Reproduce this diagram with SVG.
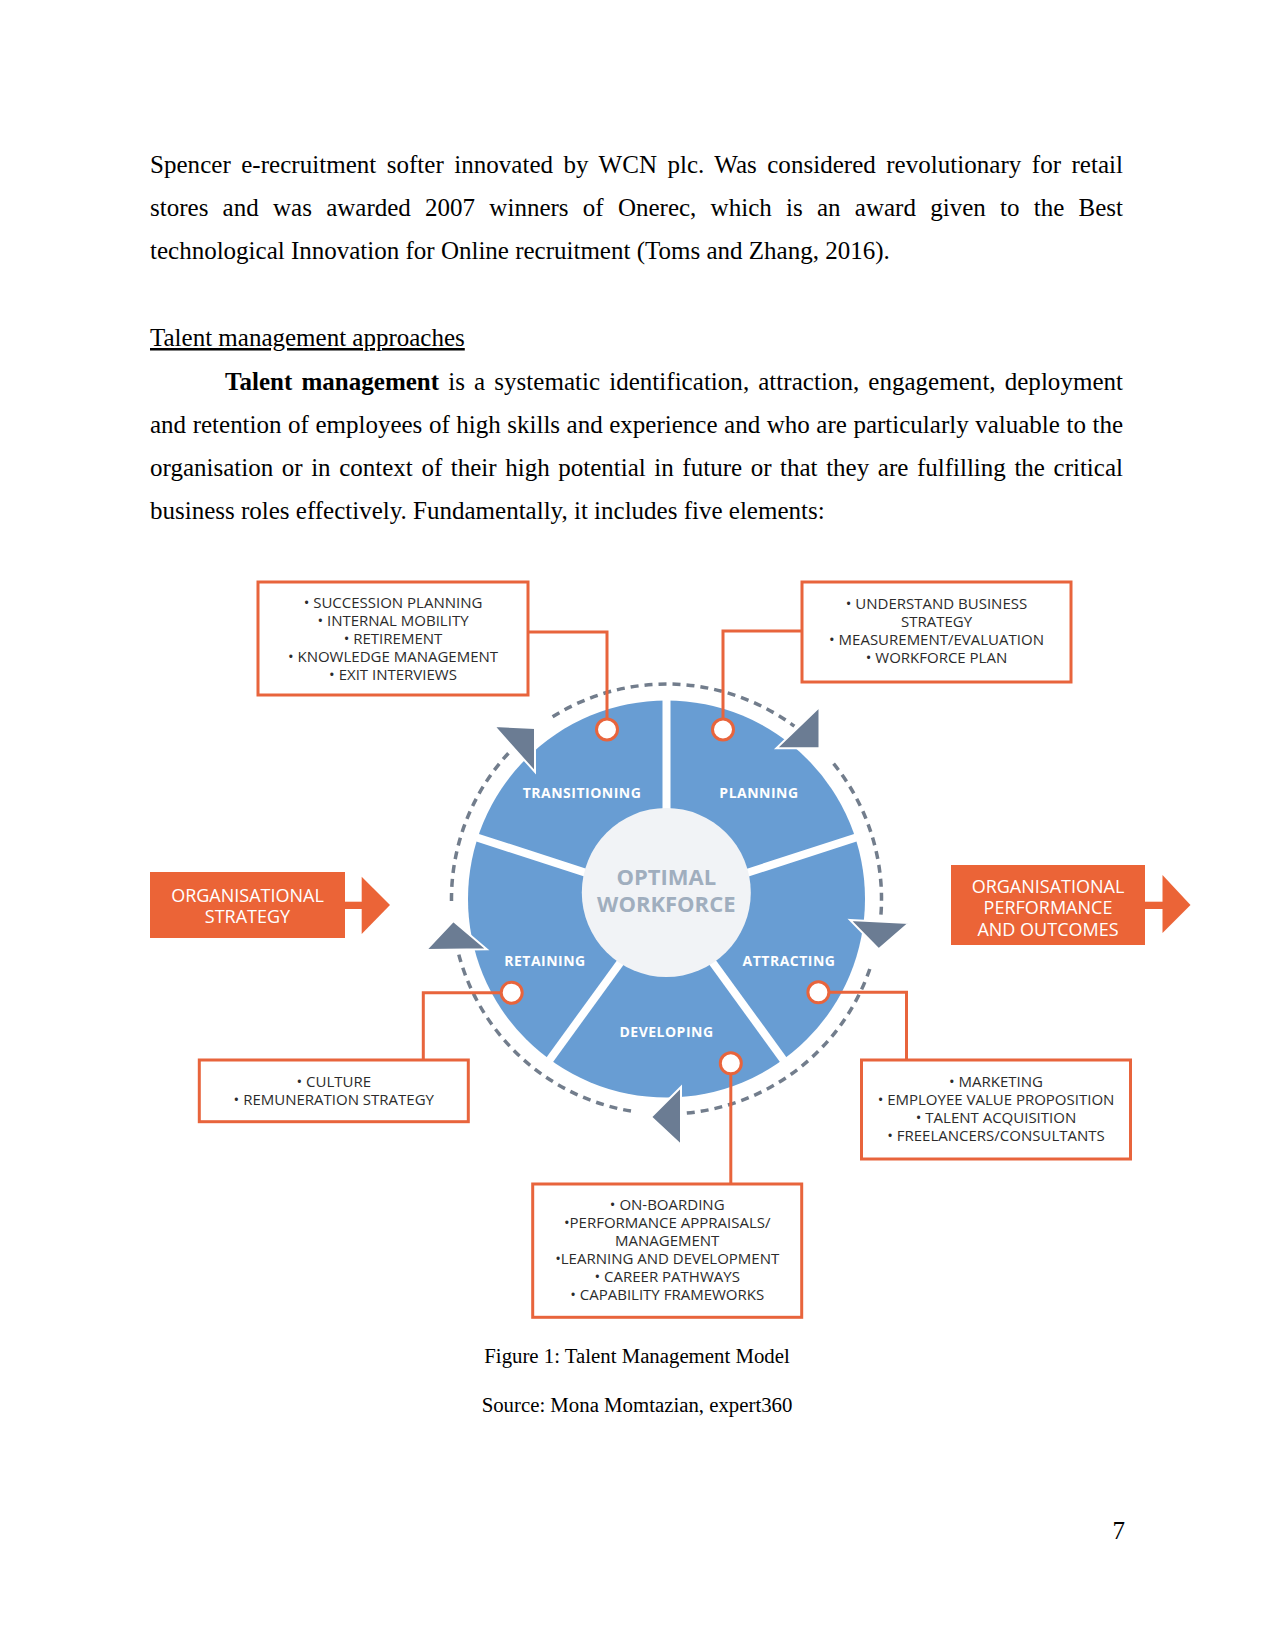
<svg xmlns="http://www.w3.org/2000/svg" width="1275" height="1651" viewBox="0 0 1275 1651">
<style>
.body{font-family:"Liberation Serif","Times New Roman",serif;font-size:25px;fill:#000}
.cap{font-family:"Liberation Serif","Times New Roman",serif;font-size:20.8px;fill:#000}
.box{fill:#fff;stroke:#E8643C;stroke-width:3}
.bt{font-family:"Open Sans","Liberation Sans",sans-serif;font-size:15px;fill:#2b2b2b;text-anchor:middle}
.ob{fill:#EB6437}
.ot{font-family:"Open Sans","Liberation Sans",sans-serif;font-size:18px;fill:#fff;text-anchor:middle}
.lbl{font-family:"Open Sans","Liberation Sans",sans-serif;font-size:14px;font-weight:bold;fill:#fff;text-anchor:middle;letter-spacing:0.5px}
.ctr{font-family:"Open Sans","Liberation Sans",sans-serif;font-size:22px;font-weight:bold;fill:#A0AEBE;text-anchor:middle}
.conn{fill:none;stroke:#E8643C;stroke-width:3}
.dot{fill:#fff;stroke:#E8643C;stroke-width:3}
.dash{fill:none;stroke:#727D8C;stroke-width:3.5;stroke-dasharray:8 6}
.tri{fill:#6B7C93;stroke:#fff;stroke-width:2;stroke-linejoin:miter}
.gap{stroke:#fff;stroke-width:8}
</style>
<rect width="1275" height="1651" fill="#fff"/>

<g id="body-text">
<text class="body" x="150" y="173" word-spacing="4.1" textLength="973" lengthAdjust="spacing">Spencer e-recruitment softer innovated by WCN plc. Was considered revolutionary for retail</text>
<text class="body" x="150" y="216" word-spacing="8" textLength="973" lengthAdjust="spacing">stores and was awarded 2007 winners of Onerec, which is an award given to the Best</text>
<text class="body" x="150" y="259">technological Innovation for Online recruitment (Toms and Zhang, 2016).</text>
<text class="body" x="150" y="346" text-decoration="underline">Talent management approaches</text>
<text class="body" x="225" y="390" word-spacing="2.8" textLength="898" lengthAdjust="spacing"><tspan font-weight="bold">Talent management</tspan> is a systematic identification, attraction, engagement, deployment</text>
<text class="body" x="150" y="433" word-spacing="0.3" textLength="973" lengthAdjust="spacing">and retention of employees of high skills and experience and who are particularly valuable to the</text>
<text class="body" x="150" y="476" word-spacing="2.3" textLength="973" lengthAdjust="spacing">organisation or in context of their high potential in future or that they are fulfilling the critical</text>
<text class="body" x="150" y="519">business roles effectively. Fundamentally, it includes five elements:</text>
</g>

<g id="wheel">
<circle cx="666.5" cy="899" r="198.5" fill="#689DD3"/>
<line class="gap" x1="666.5" y1="899" x2="666.5" y2="694"/>
<line class="gap" x1="666.5" y1="899" x2="861.5" y2="835.7"/>
<line class="gap" x1="666.5" y1="899" x2="787" y2="1064.8"/>
<line class="gap" x1="666.5" y1="899" x2="546" y2="1064.8"/>
<line class="gap" x1="666.5" y1="899" x2="471.5" y2="835.7"/>
<circle cx="666.3" cy="892.5" r="84.5" fill="#F1F3F6"/>
<text class="ctr" x="666.3" y="885">OPTIMAL</text>
<text class="ctr" x="666.3" y="911.5">WORKFORCE</text>
</g>
<g id="seg-transitioning"><text class="lbl" x="582" y="798">TRANSITIONING</text></g>
<g id="seg-planning"><text class="lbl" x="759" y="798">PLANNING</text></g>
<g id="seg-attracting"><text class="lbl" x="789" y="966">ATTRACTING</text></g>
<g id="seg-developing"><text class="lbl" x="666.5" y="1037">DEVELOPING</text></g>
<g id="seg-retaining"><text class="lbl" x="545" y="966">RETAINING</text></g>

<g id="cycle">
<path class="dash" d="M552.6 716.7 A215 215 0 0 1 794.4 726.2"/>
<path class="dash" d="M833.6 763.7 A215 215 0 0 1 880.7 917.7"/>
<path class="dash" d="M869.8 969 A215 215 0 0 1 685.2 1113.2"/>
<path class="dash" d="M631 1111.1 A215 215 0 0 1 458.8 954.6"/>
<path class="dash" d="M451.5 900.9 A215 215 0 0 1 511.8 749.6"/>
<polygon class="tri" points="494,726 535,728 535,772"/>
<polygon class="tri" points="819.5,706.7 819.5,748.3 776.4,748.3"/>
<polygon class="tri" points="850,920 909,923 878.7,949.3"/>
<polygon class="tri" points="681,1087 681,1145 651,1117"/>
<polygon class="tri" points="426,950 486.7,949.3 453.3,921"/>
</g>

<g id="connectors">
<polyline class="conn" points="528,632 607,632 607,718"/>
<polyline class="conn" points="802,631 723,631 723,718"/>
<polyline class="conn" points="830,992.3 906.5,992.3 906.5,1060"/>
<polyline class="conn" points="730.8,1075 730.8,1184"/>
<polyline class="conn" points="500,992.7 423.3,992.7 423.3,1060"/>
<circle class="dot" cx="607" cy="729.5" r="10.5"/>
<circle class="dot" cx="723" cy="729.5" r="10.5"/>
<circle class="dot" cx="818.4" cy="992.3" r="10.5"/>
<circle class="dot" cx="730.8" cy="1063.3" r="10.5"/>
<circle class="dot" cx="511.7" cy="992.7" r="10.5"/>
</g>

<g id="box-transitioning">
<rect class="box" x="258" y="582" width="270" height="113"/>
<text class="bt" x="393" y="608">• SUCCESSION PLANNING</text>
<text class="bt" x="393" y="626">• INTERNAL MOBILITY</text>
<text class="bt" x="393" y="644">• RETIREMENT</text>
<text class="bt" x="393" y="662">• KNOWLEDGE MANAGEMENT</text>
<text class="bt" x="393" y="680">• EXIT INTERVIEWS</text>
</g>
<g id="box-planning">
<rect class="box" x="802" y="582" width="269" height="100"/>
<text class="bt" x="936.5" y="609">• UNDERSTAND BUSINESS</text>
<text class="bt" x="936.5" y="627">STRATEGY</text>
<text class="bt" x="936.5" y="645">• MEASUREMENT/EVALUATION</text>
<text class="bt" x="936.5" y="663">• WORKFORCE PLAN</text>
</g>
<g id="box-retaining">
<rect class="box" x="199.3" y="1060" width="269" height="61.7"/>
<text class="bt" x="333.8" y="1087">• CULTURE</text>
<text class="bt" x="333.8" y="1105">• REMUNERATION STRATEGY</text>
</g>
<g id="box-attracting">
<rect class="box" x="861.5" y="1060" width="269" height="99"/>
<text class="bt" x="996" y="1087">• MARKETING</text>
<text class="bt" x="996" y="1105">• EMPLOYEE VALUE PROPOSITION</text>
<text class="bt" x="996" y="1123">• TALENT ACQUISITION</text>
<text class="bt" x="996" y="1141">• FREELANCERS/CONSULTANTS</text>
</g>
<g id="box-developing">
<rect class="box" x="532.7" y="1184" width="269" height="133.3"/>
<text class="bt" x="667.2" y="1210">• ON-BOARDING</text>
<text class="bt" x="667.2" y="1228">•PERFORMANCE APPRAISALS/</text>
<text class="bt" x="667.2" y="1246">MANAGEMENT</text>
<text class="bt" x="667.2" y="1264">•LEARNING AND DEVELOPMENT</text>
<text class="bt" x="667.2" y="1282">• CAREER PATHWAYS</text>
<text class="bt" x="667.2" y="1300">• CAPABILITY FRAMEWORKS</text>
</g>

<g id="org-strategy">
<rect class="ob" x="150" y="872" width="195" height="66"/>
<rect class="ob" x="344" y="901.7" width="19" height="7.3"/>
<polygon class="ob" points="361.7,876.7 361.7,934 390,905"/>
<text class="ot" x="247.5" y="901.5">ORGANISATIONAL</text>
<text class="ot" x="247.5" y="922.5">STRATEGY</text>
</g>
<g id="org-performance">
<rect class="ob" x="951" y="865" width="194" height="80"/>
<rect class="ob" x="1144" y="901.7" width="19" height="7.3"/>
<polygon class="ob" points="1162.5,875 1162.5,933 1190.5,905"/>
<text class="ot" x="1048" y="892.5">ORGANISATIONAL</text>
<text class="ot" x="1048" y="914">PERFORMANCE</text>
<text class="ot" x="1048" y="935.5">AND OUTCOMES</text>
</g>

<g id="caption">
<text class="cap" x="637" y="1363" text-anchor="middle">Figure 1: Talent Management Model</text>
<text class="cap" x="637" y="1412" text-anchor="middle">Source: Mona Momtazian, expert360</text>
<text class="body" x="1125" y="1539" text-anchor="end">7</text>
</g>
</svg>
